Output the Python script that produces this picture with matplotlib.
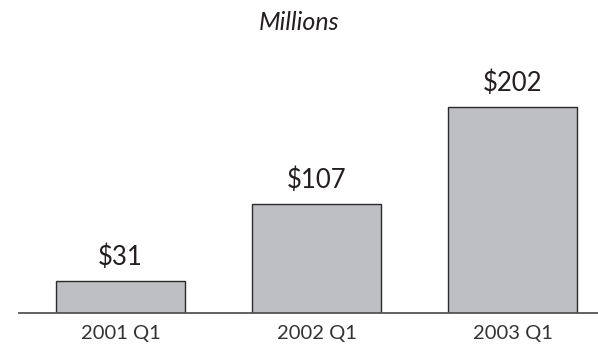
import matplotlib
matplotlib.use("Agg")
import matplotlib.pyplot as plt

categories = ["2001 Q1", "2002 Q1", "2003 Q1"]
values = [31, 107, 202]
value_labels = ["$31", "$107", "$202"]

plt.rcParams['font.family'] = ['Lato', 'DejaVu Sans']

W, H = 598, 348
fig = plt.figure(figsize=(W/100, H/100), dpi=100)
base_y = 313
ax = fig.add_axes([19/W, (H-base_y)/H, 1-19/W, base_y/H])
px_per_unit = 1.02
ax.set_ylim(0, base_y/px_per_unit)
spacing = 196.0
x = list(range(len(categories)))
ax.set_xlim(-(120.5-19)/spacing, 2 + (598-512.5)/spacing)
ax.bar(x, values, width=129/spacing, color="#BEBFC3", edgecolor="#2a2a2a", linewidth=1.0, zorder=2)
for xi, v, lab in zip(x, values, value_labels):
    ax.annotate(lab, (xi, v), xytext=(0, 8), textcoords="offset points",
                ha="center", va="bottom", fontsize=18.5, color="#231f20")
for s in ["top", "right", "left"]:
    ax.spines[s].set_visible(False)
ax.spines["bottom"].set_color("#555555")
ax.spines["bottom"].set_linewidth(1.3)
ax.set_yticks([])
ax.set_xticks(x)
ax.set_xticklabels(categories, fontsize=14.5, color="#333333")
ax.tick_params(axis="x", length=0, pad=9)
fig.text(299/W, 1-22/H, "Millions", ha="center", va="center", fontsize=18, style="italic", color="#231f20")
fig.savefig("out.png", dpi=100)
